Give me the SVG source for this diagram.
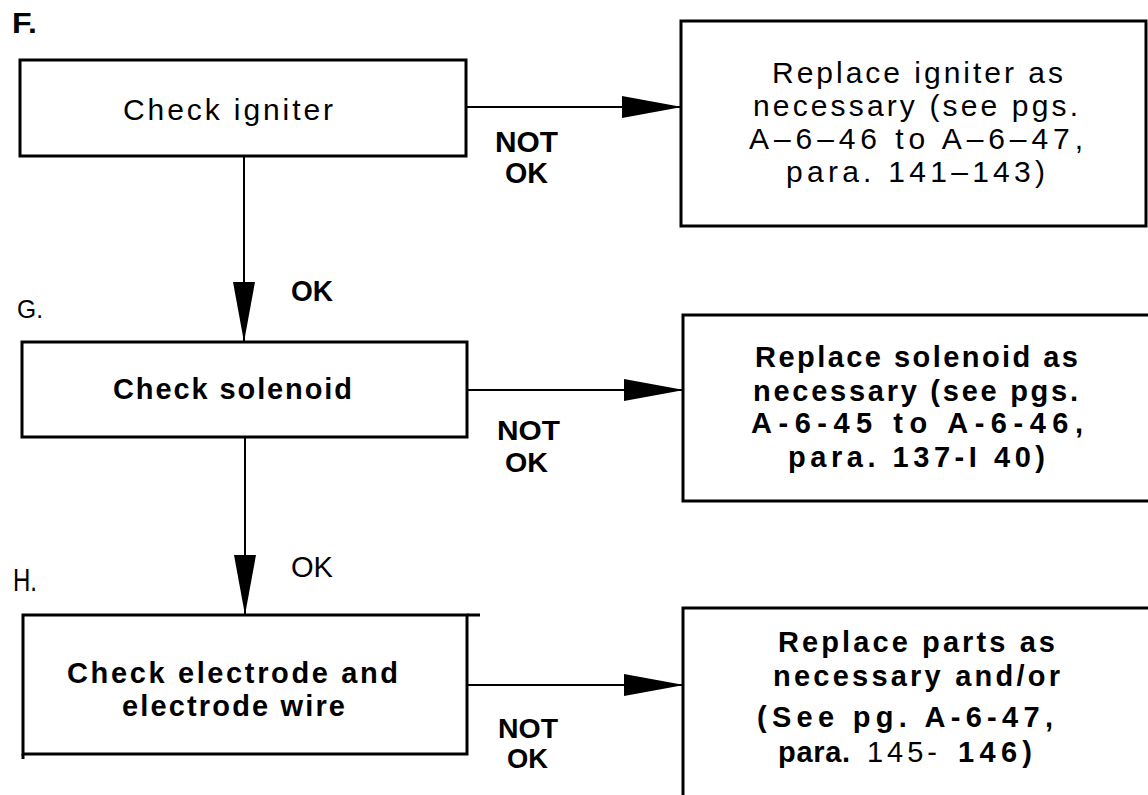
<svg xmlns="http://www.w3.org/2000/svg" width="1148" height="795" viewBox="0 0 1148 795">
<style>
.box{fill:#fff;stroke:#000;stroke-width:3}
.open{fill:none;stroke:#000;stroke-width:3}
.con{fill:none;stroke:#000;stroke-width:2}
text{font-family:"Liberation Sans",Arial,sans-serif;fill:#000}
.r{font-size:30px}
.b{font-size:29px;font-weight:bold}
.lbl{font-size:29px;font-weight:bold}
.step{font-size:25px}
</style>
<defs>
<marker id="ah" markerUnits="userSpaceOnUse" markerWidth="60" markerHeight="22" refX="59" refY="11" orient="auto">
<path d="M0,0 L60,11 L0,22 Z" fill="#000"/>
</marker>
</defs>
<rect width="1148" height="795" fill="#fff"/>

<g id="connectors">
<line class="con" x1="466" y1="107" x2="681" y2="107" marker-end="url(#ah)"/>
<line class="con" x1="244" y1="156" x2="244" y2="341" marker-end="url(#ah)"/>
<line class="con" x1="467" y1="390" x2="683" y2="390" marker-end="url(#ah)"/>
<line class="con" x1="245" y1="437" x2="245" y2="614" marker-end="url(#ah)"/>
<line class="con" x1="467" y1="685" x2="683" y2="685" marker-end="url(#ah)"/>
</g>

<g id="labels">
<text class="lbl" x="12" y="33" textLength="25" lengthAdjust="spacingAndGlyphs" style="font-size:30px">F.</text>
<text class="step" x="17" y="318" textLength="26" lengthAdjust="spacingAndGlyphs">G.</text>
<text class="step" x="13" y="591" textLength="24" lengthAdjust="spacingAndGlyphs" style="font-size:31px">H.</text>
<text class="lbl" x="495" y="152" textLength="63" lengthAdjust="spacingAndGlyphs">NOT</text>
<text class="lbl" x="505" y="183" textLength="43" lengthAdjust="spacingAndGlyphs">OK</text>
<text class="lbl" x="291" y="301" textLength="42" lengthAdjust="spacingAndGlyphs">OK</text>
<text class="lbl" x="497" y="440" textLength="63" lengthAdjust="spacingAndGlyphs" style="font-size:28px">NOT</text>
<text class="lbl" x="505" y="472" textLength="43" lengthAdjust="spacingAndGlyphs" style="font-size:28px">OK</text>
<text class="r" x="291" y="577" textLength="42" lengthAdjust="spacingAndGlyphs" style="font-size:29px">OK</text>
<text class="lbl" x="498" y="738" textLength="60" lengthAdjust="spacingAndGlyphs" style="font-size:28px">NOT</text>
<text class="lbl" x="507" y="768" textLength="41" lengthAdjust="spacingAndGlyphs" style="font-size:28px">OK</text>
</g>

<g id="node-check-igniter">
<rect class="box" x="20" y="60" width="446" height="96"/>
<text class="r" x="123" y="120" textLength="210" lengthAdjust="spacing">Check igniter</text>
</g>

<g id="node-replace-igniter">
<rect class="box" x="681" y="21" width="465" height="205"/>
<text class="r" x="772" y="83" textLength="291" lengthAdjust="spacing">Replace igniter as</text>
<text class="r" x="753" y="116" textLength="325" lengthAdjust="spacing">necessary (see pgs.</text>
<text class="r" x="749" y="149" textLength="334" lengthAdjust="spacing">A–6–46 to A–6–47,</text>
<text class="r" x="786" y="182" textLength="259" lengthAdjust="spacing">para. 141–143)</text>
</g>

<g id="node-check-solenoid">
<rect class="box" x="22" y="342" width="445" height="95"/>
<text class="b" x="113" y="399" textLength="239" lengthAdjust="spacing">Check solenoid</text>
</g>

<g id="node-replace-solenoid">
<path class="open" d="M1150,315 H683 V501 H1150"/>
<text class="b" x="755" y="367" textLength="323" lengthAdjust="spacing">Replace solenoid as</text>
<text class="b" x="753" y="401" textLength="325" lengthAdjust="spacing">necessary (see pgs.</text>
<text class="b" x="751" y="433" textLength="332" lengthAdjust="spacing">A-6-45 to A-6-46,</text>
<text class="b" x="788" y="467" textLength="257" lengthAdjust="spacing">para. 137-I 40)</text>
</g>

<g id="node-check-electrode">
<rect class="box" x="23" y="615" width="444" height="139"/>
<line class="open" x1="467" y1="615" x2="480" y2="615"/>
<line class="open" x1="23" y1="754" x2="23" y2="759"/>
<text class="b" x="67" y="683" textLength="331" lengthAdjust="spacing">Check electrode and</text>
<text class="b" x="122" y="716" textLength="223" lengthAdjust="spacing">electrode wire</text>
</g>

<g id="node-replace-parts">
<path class="open" d="M1150,608 H683 V795"/>
<text class="b" x="778" y="652" textLength="277" lengthAdjust="spacing">Replace parts as</text>
<text class="b" x="773" y="686" textLength="287" lengthAdjust="spacing">necessary and/or</text>
<text class="b" x="757" y="727" textLength="296" lengthAdjust="spacing">(See pg. A-6-47,</text>
<text class="b" y="762"><tspan x="778" textLength="72" lengthAdjust="spacing">para.</tspan> <tspan x="867" font-weight="normal" textLength="70" lengthAdjust="spacing">145-</tspan> <tspan x="958" textLength="74" lengthAdjust="spacing">146)</tspan></text>
</g>
</svg>
